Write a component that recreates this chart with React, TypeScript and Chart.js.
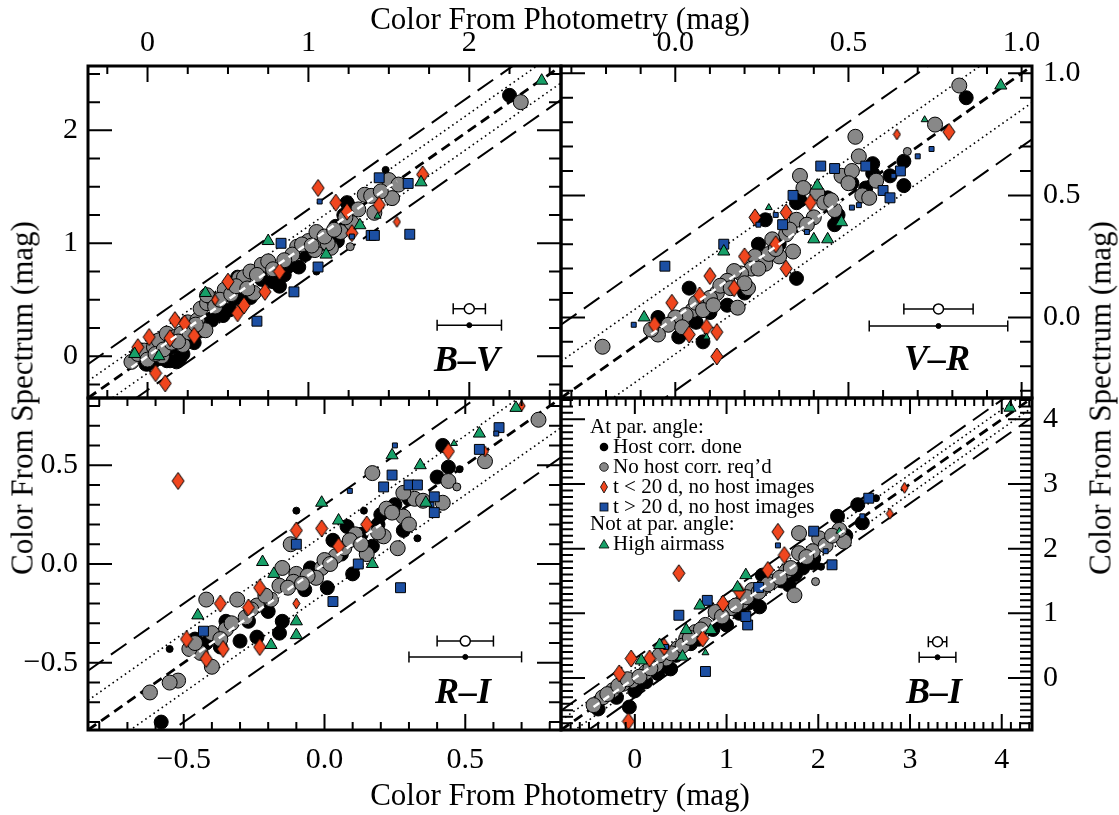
import React, { useEffect, useRef } from 'react';
import { Chart, registerables } from 'chart.js';

Chart.register(...registerables);

type Pt = [number, number];

const W = 1119;
const H = 815;
const SERIF = "'Liberation Serif', 'Times New Roman', Times, serif";

const BLACK = '#000000';
const GRAY = '#888888';
const RED = '#f0461e';
const BLUE = '#1c4fa3';
const GREEN = '#17a068';

// ---------- axis ranges (mag) ----------
const bvRange: Pt = [-0.37, 2.57];
const vrRange: Pt = [-0.33, 1.03];
const riRange: Pt = [-0.84, 0.84];
const biRange: Pt = [-0.805, 4.33];

// guide-line offsets (mag) and error bar half-widths (mag)
const dottedOffset = 0.15;
const dashedOffset = 0.3;
const errInner = 0.1;
const errOuter = 0.2;

// ---------- B-V ----------
const bvHost: Pt[] = [[2.25, 2.31], [0.14, -0.04], [0.2, -0.02], [0.26, 0.17], [-0.01, -0.07], [0.12, -0.04], [0.15, 0.08], [0.04, -0.04], [0.0, -0.07], [0.51, 0.41], [0.54, 0.51], [0.56, 0.7], [0.44, 0.41], [0.4, 0.32], [0.82, 0.62], [0.81, 0.65], [0.87, 0.79], [0.94, 0.79], [0.71, 0.68], [1.24, 1.36], [1.25, 1.33], [1.15, 1.09], [1.2, 1.12], [1.14, 1.06], [0.32, 0.22], [0.98, 0.9], [1.18, 1.02], [0.18, -0.05], [0.22, 0.02], [0.08, -0.02], [0.29, 0.12], [0.47, 0.36], [0.6, 0.56], [0.64, 0.52], [0.85, 0.72], [0.78, 0.66], [1.1, 1.0], [1.17, 1.15], [1.22, 1.25]];
const bvHostSm: Pt[] = [[1.05, 0.75], [1.48, 1.65], [1.27, 1.14]];
const bvNoHost: Pt[] = [[-0.1, -0.05], [-0.06, 0.02], [-0.02, 0.05], [0.04, 0.08], [0.07, 0.14], [0.12, 0.2], [0.17, 0.17], [0.21, 0.2], [0.25, 0.3], [0.31, 0.32], [0.33, 0.42], [0.37, 0.47], [0.41, 0.5], [0.48, 0.59], [0.57, 0.69], [0.6, 0.7], [0.64, 0.75], [0.66, 0.56], [0.71, 0.81], [0.75, 0.84], [0.93, 0.97], [1.0, 1.02], [1.04, 0.94], [1.08, 1.03], [1.14, 0.96], [1.2, 1.1], [1.27, 1.18], [1.35, 1.43], [1.39, 1.42], [1.41, 1.27], [1.5, 1.56], [1.56, 1.52], [1.52, 1.4], [0.36, 0.23], [0.37, 0.54], [2.32, 2.25], [0.09, 0.0], [0.22, 0.1], [0.28, 0.25], [0.9, 0.9], [1.05, 1.1], [1.12, 1.0], [0.0, -0.03], [0.05, 0.02], [0.1, 0.06], [0.15, 0.12], [0.19, 0.13], [0.26, 0.21], [0.3, 0.28], [0.42, 0.44], [0.45, 0.5], [0.52, 0.55], [0.55, 0.62], [0.62, 0.6], [0.68, 0.72], [0.78, 0.77], [0.85, 0.85], [0.96, 0.99], [1.02, 0.98], [1.1, 1.06], [1.16, 1.12], [1.23, 1.23], [1.31, 1.3], [1.45, 1.46]];
const bvNoHostSm: Pt[] = [[1.26, 0.97]];
const bvEarly: Pt[] = [[-0.06, 0.08], [0.01, 0.17], [0.05, -0.15], [0.11, -0.24], [0.17, 0.32], [0.23, 0.29], [0.5, 0.66], [0.56, 0.38], [0.73, 0.57], [0.82, 0.75], [1.17, 1.36], [1.24, 1.28], [1.27, 1.09], [1.44, 1.34], [1.71, 1.61], [1.06, 1.49], [0.14, 0.16], [0.29, 0.18], [0.6, 0.45]];
const bvEarlySm: Pt[] = [[1.55, 1.19], [0.42, 0.5]];
const bvLate: Pt[] = [[1.44, 1.58], [1.62, 1.53], [1.39, 1.07], [1.41, 1.07], [1.63, 1.08], [1.06, 0.79], [0.83, 1.0], [0.91, 0.57], [0.68, 0.31]];
const bvLateSm: Pt[] = [[1.27, 1.06], [1.07, 1.37]];
const bvAir: Pt[] = [[0.75, 1.02], [0.36, 0.56], [1.7, 1.54], [1.11, 0.9], [1.32, 1.16], [-0.08, 0.02], [2.45, 2.44], [0.07, 0.0]];
const bvAirSm: Pt[] = [[1.43, 1.24]];
const bvFit: Pt = [-0.1, 1.55];
const bvErr: number[] = [2.0, 0.42, 0.275];

// ---------- V-R ----------
const vrHost: Pt[] = [[0.84, 0.9], [0.66, 0.54], [0.66, 0.64], [0.57, 0.63], [0.57, 0.59], [0.44, 0.49], [0.36, 0.48], [0.26, 0.4], [0.35, 0.16], [0.08, -0.1], [0.01, -0.08], [0.04, 0.12], [-0.05, 0.0], [0.2, 0.1], [0.46, 0.38], [0.51, 0.55], [0.35, 0.47], [0.1, 0.02], [0.15, 0.05], [0.3, 0.3], [0.02, 0.0], [0.06, -0.02], [0.24, 0.3], [0.47, 0.42], [0.62, 0.58], [0.55, 0.53]];
const vrHostSm: Pt[] = [];
const vrNoHost: Pt[] = [[0.82, 0.95], [0.75, 0.79], [0.52, 0.74], [0.36, 0.58], [0.37, 0.53], [0.41, 0.51], [0.48, 0.58], [0.51, 0.6], [0.54, 0.5], [0.56, 0.49], [0.46, 0.44], [0.4, 0.41], [0.35, 0.4], [0.32, 0.34], [0.34, 0.27], [0.28, 0.32], [0.23, 0.25], [0.22, 0.2], [0.19, 0.18], [0.17, 0.19], [0.15, 0.15], [0.12, 0.1], [0.1, 0.08], [0.05, 0.03], [0.03, 0.01], [0.0, 0.0], [-0.02, -0.03], [-0.05, -0.07], [-0.07, -0.05], [-0.21, -0.12], [0.18, 0.04], [0.21, 0.12], [0.26, 0.22], [0.3, 0.25], [0.06, 0.06], [0.13, 0.13], [0.43, 0.47], [0.02, -0.04], [0.08, 0.03], [0.11, 0.05], [0.16, 0.12], [0.2, 0.14], [0.24, 0.2], [0.27, 0.26], [0.29, 0.28], [0.33, 0.36], [0.38, 0.38], [0.45, 0.48], [0.5, 0.55], [0.58, 0.56], [0.53, 0.66]];
const vrNoHostSm: Pt[] = [[0.67, 0.68]];
const vrEarly: Pt[] = [[0.79, 0.76], [0.23, 0.41], [0.32, 0.43], [0.39, 0.47], [0.2, 0.25], [0.32, 0.2], [-0.01, 0.06], [-0.06, -0.03], [0.09, -0.04], [0.12, -0.06], [0.12, -0.16], [0.04, -0.07], [0.1, 0.17], [0.07, 0.09], [0.17, 0.12], [0.29, 0.3]];
const vrEarlySm: Pt[] = [[0.64, 0.75]];
const vrLate: Pt[] = [[-0.03, 0.21], [0.14, 0.3], [0.34, 0.5], [0.42, 0.62], [0.46, 0.61], [0.55, 0.62], [0.6, 0.52], [0.62, 0.49], [0.65, 0.6], [0.31, 0.38]];
const vrLateSm: Pt[] = [[0.24, 0.38], [0.51, 0.45], [0.7, 0.66], [0.74, 0.69], [0.63, 0.58], [-0.12, -0.03], [0.38, 0.35], [0.29, 0.42], [0.53, 0.46]];
const vrAir: Pt[] = [[0.94, 0.95], [0.14, 0.27], [0.4, 0.32], [0.44, 0.32], [0.41, 0.54], [0.48, 0.39], [-0.09, 0.0]];
const vrAirSm: Pt[] = [[0.72, 0.81], [0.09, -0.08], [0.27, 0.45]];
const vrFit: Pt = [-0.07, 0.48];
const vrErr: number[] = [0.76, 0.035, -0.035];

// ---------- R-I ----------
const riHost: Pt[] = [[-0.58, -0.8], [0.42, 0.6], [0.44, 0.49], [0.4, 0.44], [0.28, 0.17], [0.2, 0.25], [0.08, 0.19], [0.03, 0.12], [0.1, -0.05], [0.01, -0.12], [-0.07, -0.13], [-0.15, -0.29], [-0.16, -0.35], [-0.3, -0.39], [-0.24, -0.37], [-0.37, -0.42], [-0.35, -0.29], [-0.46, -0.38], [0.17, 0.09], [-0.2, -0.24], [0.25, 0.3], [0.13, 0.15], [-0.42, -0.4], [-0.27, -0.29], [-0.05, -0.02], [0.06, 0.05], [0.19, 0.2], [0.3, 0.33]];
const riHostSm: Pt[] = [[0.48, 0.48], [0.33, 0.13], [0.14, 0.27], [-0.55, -0.43], [-0.1, 0.27]];
const riNoHost: Pt[] = [[0.76, 0.73], [0.57, 0.52], [0.44, 0.42], [0.42, 0.31], [0.32, 0.33], [0.28, 0.36], [0.22, 0.28], [0.28, 0.24], [0.26, 0.08], [0.21, 0.14], [0.15, 0.05], [0.11, 0.15], [0.04, 0.04], [-0.01, -0.02], [-0.03, -0.07], [-0.1, -0.05], [-0.11, -0.09], [-0.16, -0.11], [-0.19, -0.18], [-0.24, -0.21], [-0.28, -0.27], [-0.31, -0.18], [-0.35, -0.33], [-0.4, -0.35], [-0.42, -0.18], [-0.44, -0.45], [-0.48, -0.43], [-0.52, -0.59], [-0.55, -0.6], [-0.62, -0.65], [-0.4, -0.52], [-0.12, 0.1], [0.17, 0.46], [-0.15, -0.02], [0.07, 0.08], [0.0, 0.02], [-0.06, -0.06], [-0.46, -0.4], [-0.37, -0.38], [-0.33, -0.3], [-0.26, -0.23], [-0.21, -0.16], [-0.13, -0.12], [-0.08, -0.1], [0.02, 0.0], [0.09, 0.12], [0.13, 0.1], [0.19, 0.16], [0.24, 0.26], [0.35, 0.32], [0.3, 0.2]];
const riNoHostSm: Pt[] = [[0.47, 0.39]];
const riEarly: Pt[] = [[-0.52, 0.42], [-0.1, 0.17], [-0.01, 0.18], [-0.23, -0.12], [-0.37, -0.2], [-0.27, -0.22], [-0.23, -0.42], [-0.36, -0.43], [-0.49, -0.38], [0.15, 0.2], [0.44, 0.57], [0.05, 0.09], [-0.42, -0.48]];
const riEarlySm: Pt[] = [[0.57, 0.57], [0.7, 0.8], [-0.1, -0.2]];
const riLate: Pt[] = [[0.62, 0.69], [0.55, 0.58], [0.24, 0.45], [0.21, 0.39], [0.3, 0.4], [0.33, 0.4], [0.39, 0.34], [0.39, 0.26], [0.27, -0.12], [0.03, -0.19], [0.12, 0.0], [-0.43, -0.34], [-0.1, 0.1]];
const riLateSm: Pt[] = [[0.61, 0.66], [0.25, 0.6], [0.09, 0.37], [0.38, 0.3]];
const riAir: Pt[] = [[0.68, 0.79], [0.55, 0.66], [0.24, 0.55], [0.34, 0.5], [-0.01, 0.31], [-0.22, 0.01], [-0.18, -0.05], [-0.45, -0.26], [-0.1, -0.29], [-0.1, -0.36], [-0.19, -0.41], [0.17, 0.0], [0.05, 0.22], [0.36, 0.31]];
const riAirSm: Pt[] = [[0.46, 0.61]];
const riFit: Pt = [-0.48, 0.2];
const riErr: number[] = [0.5, -0.39, -0.47];

// ---------- B-I ----------
const biHost: Pt[] = [[2.48, 2.4], [2.43, 2.68], [2.21, 2.5], [1.94, 1.78], [1.83, 1.7], [1.68, 1.44], [1.39, 1.59], [1.36, 1.1], [1.23, 1.15], [1.14, 1.0], [1.0, 0.82], [0.61, 0.53], [0.39, 0.14], [0.25, 0.07], [0.12, -0.06], [-0.06, -0.45], [-0.4, -0.48], [0.0, -0.2], [1.6, 1.5], [0.85, 0.75], [0.05, -0.1], [-0.2, -0.3], [0.3, 0.2], [0.45, 0.35], [0.7, 0.6], [0.93, 0.9], [1.3, 1.2], [1.75, 1.6], [1.95, 1.85], [2.3, 2.2]];
const biHostSm: Pt[] = [[2.63, 2.78], [2.03, 1.72]];
const biNoHost: Pt[] = [[2.28, 2.11], [2.23, 2.29], [1.79, 2.24], [2.01, 2.16], [1.94, 1.96], [1.79, 1.93], [1.74, 1.28], [1.65, 1.65], [1.5, 1.49], [1.39, 1.39], [1.28, 1.36], [1.17, 1.18], [1.05, 1.08], [0.88, 1.02], [0.77, 0.82], [0.66, 0.71], [0.56, 0.61], [0.47, 0.46], [0.34, 0.3], [0.23, 0.2], [0.12, 0.09], [-0.03, -0.04], [-0.13, -0.09], [-0.24, -0.19], [-0.35, -0.3], [0.27, 0.35], [-0.45, -0.42], [-0.3, -0.25], [-0.18, -0.12], [-0.08, -0.02], [0.05, 0.02], [0.17, 0.15], [0.4, 0.38], [0.52, 0.5], [0.6, 0.62], [0.72, 0.75], [0.95, 0.95], [1.1, 1.12], [1.22, 1.25], [1.35, 1.33], [1.45, 1.45], [1.58, 1.55], [1.7, 1.7], [1.87, 1.87], [2.08, 2.05], [2.15, 2.2]];
const biNoHostSm: Pt[] = [[1.97, 1.49]];
const biEarly: Pt[] = [[0.48, 1.62], [1.56, 2.26], [1.63, 1.9], [1.45, 1.67], [1.14, 1.34], [0.96, 1.15], [0.74, 0.61], [0.32, 0.48], [0.16, 0.3], [-0.04, 0.3], [-0.17, 0.07], [-0.07, -0.67]];
const biEarlySm: Pt[] = [[2.94, 2.94], [2.78, 2.54]];
const biLate: Pt[] = [[2.55, 2.78], [1.95, 2.27], [2.15, 1.75], [1.35, 1.4], [0.79, 1.2], [0.48, 0.97], [1.23, 0.82], [1.21, 0.95], [0.77, 0.1]];
const biLateSm: Pt[] = [[2.48, 2.5], [2.08, 1.96], [1.56, 2.05], [0.34, 0.48]];
const biAir: Pt[] = [[4.09, 4.18], [1.21, 1.59], [1.12, 1.4], [0.71, 1.12], [0.83, 0.74], [0.56, 0.74], [0.27, 0.51], [0.07, 0.27], [0.52, 0.33]];
const biAirSm: Pt[] = [[0.77, 0.39], [2.23, 2.27]];
const biFit: Pt = [-0.45, 2.3];
const biErr: number[] = [3.3, 0.56, 0.32];

// ---------- panel definitions (layout) ----------
interface Series {
  host: Pt[]; hostSm: Pt[]; noHost: Pt[]; noHostSm: Pt[];
  early: Pt[]; earlySm: Pt[]; late: Pt[]; lateSm: Pt[]; air: Pt[]; airSm: Pt[];
}
interface Panel {
  name: string;
  range: Pt;
  minor: number;
  major: number;
  digits: number;
  xPos: 'top' | 'bottom';
  yPos: 'left' | 'right';
  box: { l: number; t: number; r: number; b: number };
  s: Series;
  fit: Pt;
  err: number[];
}

const panels: Panel[] = [
  {
    name: 'B–V', range: bvRange, minor: 0.25, major: 1, digits: 0, xPos: 'top', yPos: 'left',
    box: { l: 88, t: 66, r: 561, b: 398 },
    s: { host: bvHost, hostSm: bvHostSm, noHost: bvNoHost, noHostSm: bvNoHostSm, early: bvEarly, earlySm: bvEarlySm, late: bvLate, lateSm: bvLateSm, air: bvAir, airSm: bvAirSm },
    fit: bvFit, err: bvErr,
  },
  {
    name: 'V–R', range: vrRange, minor: 0.1, major: 0.5, digits: 1, xPos: 'top', yPos: 'right',
    box: { l: 561, t: 66, r: 1032, b: 398 },
    s: { host: vrHost, hostSm: vrHostSm, noHost: vrNoHost, noHostSm: vrNoHostSm, early: vrEarly, earlySm: vrEarlySm, late: vrLate, lateSm: vrLateSm, air: vrAir, airSm: vrAirSm },
    fit: vrFit, err: vrErr,
  },
  {
    name: 'R–I', range: riRange, minor: 0.1, major: 0.5, digits: 1, xPos: 'bottom', yPos: 'left',
    box: { l: 88, t: 398, r: 561, b: 730 },
    s: { host: riHost, hostSm: riHostSm, noHost: riNoHost, noHostSm: riNoHostSm, early: riEarly, earlySm: riEarlySm, late: riLate, lateSm: riLateSm, air: riAir, airSm: riAirSm },
    fit: riFit, err: riErr,
  },
  {
    name: 'B–I', range: biRange, minor: 0.1, major: 1, digits: 0, xPos: 'bottom', yPos: 'right',
    box: { l: 561, t: 398, r: 1032, b: 730 },
    s: { host: biHost, hostSm: biHostSm, noHost: biNoHost, noHostSm: biNoHostSm, early: biEarly, earlySm: biEarlySm, late: biLate, lateSm: biLateSm, air: biAir, airSm: biAirSm },
    fit: biFit, err: biErr,
  },
];

const panelLabelPos: Record<string, { right: number; baseline: number }> = {
  'B–V': { right: 500, baseline: 371 },
  'V–R': { right: 970, baseline: 370 },
  'R–I': { right: 491, baseline: 703 },
  'B–I': { right: 962, baseline: 703 },
};

// ---------- helpers ----------
const pts = (a: Pt[]) => a.map(([x, y]) => ({ x, y }));
const seg = (x0: number, y0: number, x1: number, y1: number) => [{ x: x0, y: y0 }, { x: x1, y: y1 }];

function tickValues(lo: number, hi: number, step: number): number[] {
  const out: number[] = [];
  for (let k = Math.ceil(lo / step - 1e-9); k * step <= hi + 1e-9; k++) {
    out.push(Number((k * step).toFixed(6)));
  }
  return out;
}
const isMajor = (v: number, major: number) => Math.abs(v / major - Math.round(v / major)) < 1e-6;

function fmt(v: number, digits: number): string {
  const f = Math.pow(10, digits);
  const r = Math.round(v * f) / f + 0;
  return r.toFixed(digits).replace('-', '−');
}

function diamondImage(w: number, h: number): HTMLCanvasElement {
  const c = document.createElement('canvas');
  c.width = w + 2;
  c.height = h + 2;
  const ctx = c.getContext('2d')!;
  ctx.beginPath();
  ctx.moveTo(c.width / 2, 1);
  ctx.lineTo(c.width - 1, c.height / 2);
  ctx.lineTo(c.width / 2, c.height - 1);
  ctx.lineTo(1, c.height / 2);
  ctx.closePath();
  ctx.fillStyle = RED;
  ctx.fill();
  ctx.lineWidth = 1;
  ctx.strokeStyle = BLACK;
  ctx.stroke();
  return c;
}

function markerSet(data: Pt[], style: any, r: number, fill: string, bw = 1) {
  return {
    data: pts(data), showLine: false, pointStyle: style, pointRadius: r, pointHoverRadius: r,
    pointBackgroundColor: fill, pointBorderColor: BLACK, pointBorderWidth: bw,
  };
}
function lineSet(data: any[], color: string, width: number, dash: number[]) {
  return {
    data, showLine: true, borderColor: color, borderWidth: width, borderDash: dash,
    pointRadius: 0, pointHoverRadius: 0, fill: false, clip: 0,
  };
}
function errSet(cx: number, cy: number, half: number) {
  return {
    ...lineSet(seg(cx - half, cy, cx + half, cy), BLACK, 1.5, []),
    pointStyle: 'line', pointRadius: 5.5, pointHoverRadius: 5.5, pointRotation: 90,
    pointBorderColor: BLACK, pointBorderWidth: 1.5,
  };
}

const framePlugin = {
  id: 'frame',
  afterDatasetsDraw(chart: any, _args: any, opts: any) {
    const { ctx, chartArea: a } = chart;
    const xs = chart.scales.x;
    const ys = chart.scales.y;
    ctx.save();
    ctx.strokeStyle = BLACK;
    ctx.lineWidth = 2;
    xs.ticks.forEach((t: any) => {
      const px = xs.getPixelForValue(t.value);
      const len = isMajor(t.value, opts.major) ? opts.xMajor : opts.xMinor;
      ctx.beginPath();
      ctx.moveTo(px, a.top);
      ctx.lineTo(px, a.top + len);
      ctx.moveTo(px, a.bottom);
      ctx.lineTo(px, a.bottom - len);
      ctx.stroke();
    });
    ys.ticks.forEach((t: any) => {
      const py = ys.getPixelForValue(t.value);
      const len = isMajor(t.value, opts.major) ? opts.yMajor : opts.yMinor;
      ctx.beginPath();
      ctx.moveTo(a.left, py);
      ctx.lineTo(a.left + len, py);
      ctx.moveTo(a.right, py);
      ctx.lineTo(a.right - len, py);
      ctx.stroke();
    });
    ctx.lineWidth = 3;
    ctx.strokeRect(a.left, a.top, a.right - a.left, a.bottom - a.top);
    ctx.restore();
  },
};

function buildConfig(p: Panel): any {
  const [lo, hi] = p.range;
  const s = p.s;
  const dLg = diamondImage(12, 17);
  const dSm = diamondImage(7, 11);
  const [ex, eyO, eyD] = p.err;
  const datasets = [
    lineSet(seg(p.fit[0], p.fit[0], p.fit[1], p.fit[1]), '#ffffff', 2.5, [7, 5]),
    markerSet([[ex, eyO]], 'circle', 5, '#ffffff', 1.5),
    markerSet([[ex, eyD]], 'circle', 2.5, BLACK, 1),
    errSet(ex, eyO, errInner),
    errSet(ex, eyD, errOuter),
    markerSet(s.airSm, 'triangle', 4, GREEN),
    markerSet(s.air, 'triangle', 7, GREEN),
    markerSet(s.lateSm, 'rect', 3.5, BLUE),
    markerSet(s.late, 'rect', 7, BLUE),
    markerSet(s.earlySm, dSm, 6, RED),
    markerSet(s.early, dLg, 8, RED),
    markerSet(s.noHostSm, 'circle', 4, GRAY),
    markerSet(s.noHost, 'circle', 7.5, GRAY),
    markerSet(s.hostSm, 'circle', 3.5, BLACK),
    markerSet(s.host, 'circle', 7, BLACK),
    lineSet(seg(lo, lo, hi, hi), BLACK, 2.8, [10, 6]),
    lineSet(seg(lo, lo + dottedOffset, hi, hi + dottedOffset), BLACK, 1.6, [1.6, 3.4]),
    lineSet(seg(lo, lo - dottedOffset, hi, hi - dottedOffset), BLACK, 1.6, [1.6, 3.4]),
    lineSet(seg(lo, lo + dashedOffset, hi, hi + dashedOffset), BLACK, 2, [19, 9]),
    lineSet(seg(lo, lo - dashedOffset, hi, hi - dashedOffset), BLACK, 2, [19, 9]),
  ];
  const ticks = tickValues(lo, hi, p.minor);
  const tickFont = { family: SERIF, size: 30, lineHeight: 1.2 };
  const common = (pad: number) => ({
    type: 'linear',
    min: lo,
    max: hi,
    grid: { display: false, drawTicks: false },
    border: { display: false },
    ticks: {
      autoSkip: false, maxRotation: 0, minRotation: 0, padding: pad, color: BLACK, font: tickFont,
      callback: (v: number) => (isMajor(v, p.major) ? fmt(v, p.digits) : ''),
    },
    afterBuildTicks: (scale: any) => {
      scale.ticks = ticks.map((v) => ({ value: v }));
    },
  });
  const padding = {
    left: p.yPos === 'left' ? 0 : p.box.l,
    right: p.yPos === 'right' ? 0 : W - p.box.r,
    top: p.xPos === 'top' ? 0 : p.box.t,
    bottom: p.xPos === 'bottom' ? 0 : H - p.box.b,
  };
  return {
    type: 'scatter',
    data: { datasets },
    options: {
      animation: false,
      responsive: false,
      devicePixelRatio: 1,
      events: [],
      layout: { padding, autoPadding: false },
      plugins: {
        legend: { display: false },
        tooltip: { enabled: false },
        frame: { major: p.major, xMajor: 16, xMinor: 8, yMajor: 24, yMinor: 12 },
      },
      scales: {
        x: {
          ...common(p.xPos === 'top' ? 5 : 12),
          position: p.xPos,
          afterFit: (scale: any) => {
            scale.height = p.xPos === 'top' ? p.box.t : H - p.box.b;
          },
        },
        y: {
          ...common(p.yPos === 'left' ? 10 : 11),
          position: p.yPos,
          afterFit: (scale: any) => {
            scale.width = p.yPos === 'left' ? p.box.l : W - p.box.r;
          },
        },
      },
    },
    plugins: [framePlugin],
  };
}

function PanelCanvas({ p }: { p: Panel }) {
  const ref = useRef<HTMLCanvasElement>(null);
  useEffect(() => {
    if (!ref.current) return;
    const chart = new Chart(ref.current, buildConfig(p));
    return () => chart.destroy();
  }, [p]);
  return (
    <canvas
      ref={ref}
      width={W}
      height={H}
      style={{ position: 'absolute', left: 0, top: 0, width: W, height: H }}
    />
  );
}

const textBase: React.CSSProperties = {
  position: 'absolute',
  fontFamily: SERIF,
  color: BLACK,
  whiteSpace: 'nowrap',
};

function Title({ x, y, rot, text }: { x: number; y: number; rot: number; text: string }) {
  return (
    <div
      style={{
        ...textBase,
        left: x,
        top: y,
        fontSize: 31,
        lineHeight: '31px',
        transform: `translate(-50%, -50%) rotate(${rot}deg)`,
      }}
    >
      {text}
    </div>
  );
}

type MarkerKind = 'host' | 'noHost' | 'early' | 'late' | 'air' | null;
const legendRows: { text: string; marker: MarkerKind; baseline: number }[] = [
  { text: 'At par. angle:', marker: null, baseline: 434 },
  { text: 'Host corr. done', marker: 'host', baseline: 454 },
  { text: 'No host corr. req’d', marker: 'noHost', baseline: 474 },
  { text: 't < 20 d, no host images', marker: 'early', baseline: 494 },
  { text: 't > 20 d, no host images', marker: 'late', baseline: 514 },
  { text: 'Not at par. angle:', marker: null, baseline: 531 },
  { text: 'High airmass', marker: 'air', baseline: 551 },
];

function LegendMarker({ kind, cx, cy }: { kind: MarkerKind; cx: number; cy: number }) {
  const size = 14;
  let shape: React.ReactNode = null;
  if (kind === 'host') shape = <circle cx={7} cy={7} r={4.3} fill={BLACK} />;
  if (kind === 'noHost') shape = <circle cx={7} cy={7} r={4.3} fill={GRAY} stroke={BLACK} strokeWidth={0.8} />;
  if (kind === 'early') shape = <polygon points="7,1 10.5,7 7,13 3.5,7" fill={RED} stroke={BLACK} strokeWidth={0.8} />;
  if (kind === 'late') shape = <rect x={3} y={3} width={8} height={8} fill={BLUE} stroke={BLACK} strokeWidth={0.8} />;
  if (kind === 'air') shape = <polygon points="7,2.5 12,11 2,11" fill={GREEN} stroke={BLACK} strokeWidth={0.8} />;
  return (
    <svg
      width={size}
      height={size}
      style={{ position: 'absolute', left: cx - size / 2, top: cy - size / 2 }}
    >
      {shape}
    </svg>
  );
}

function Legend() {
  return (
    <>
      {legendRows.map((r) => (
        <React.Fragment key={r.text}>
          {r.marker && <LegendMarker kind={r.marker} cx={603.5} cy={r.baseline - 7} />}
          <div
            style={{
              ...textBase,
              left: r.marker ? 613 : 590,
              top: r.baseline - 17.6,
              fontSize: 21,
              lineHeight: '21px',
            }}
          >
            {r.text}
          </div>
        </React.Fragment>
      ))}
    </>
  );
}

export default function App() {
  return (
    <div style={{ position: 'absolute', left: 0, top: 0, width: W, height: H, background: '#ffffff' }}>
      {panels.map((p) => (
        <PanelCanvas key={p.name} p={p} />
      ))}
      {panels.map((p) => {
        const pos = panelLabelPos[p.name];
        return (
          <div
            key={'lbl' + p.name}
            style={{
              ...textBase,
              left: pos.right,
              top: pos.baseline - 30.2,
              fontSize: 36,
              lineHeight: '36px',
              fontWeight: 'bold',
              fontStyle: 'italic',
              transform: 'translateX(-100%)',
            }}
          >
            {p.name}
          </div>
        );
      })}
      <Title x={560} y={17.5} rot={0} text="Color From Photometry (mag)" />
      <Title x={560} y={793.5} rot={0} text="Color From Photometry (mag)" />
      <Title x={21.5} y={398} rot={-90} text="Color From Spectrum (mag)" />
      <Title x={1099.5} y={398} rot={-90} text="Color From Spectrum (mag)" />
      <Legend />
    </div>
  );
}
